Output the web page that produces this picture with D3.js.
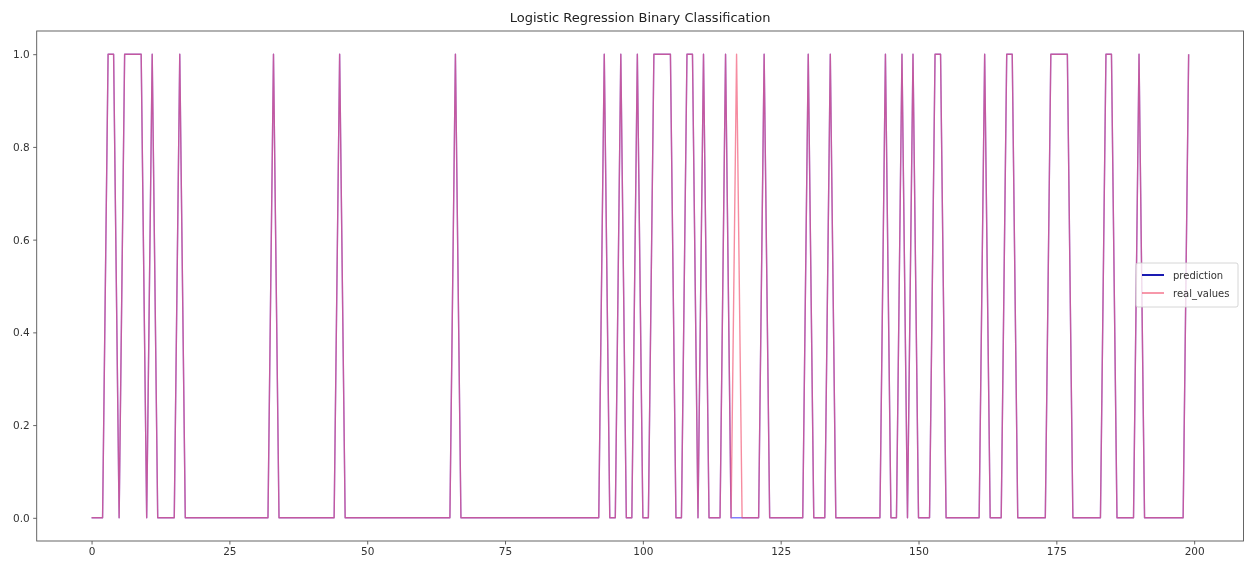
<!DOCTYPE html>
<html>
<head>
<meta charset="utf-8">
<script src="https://cdn.jsdelivr.net/npm/d3@7"></script>
<style>
  html, body { margin: 0; padding: 0; background: #fff; }
  svg { display: block; }
  .soft { filter: blur(0.6px); }
</style>
</head>
<body>
<div id="chart"></div>
<script>
// Sample index on the x axis
const sampleIndex = d3.range(200);

// Class labels predicted by the model, one per sample
const prediction = [
  0,0,0,1,1,0,1,1,1,1,
  0,1,0,0,0,0,1,0,0,0,
  0,0,0,0,0,0,0,0,0,0,
  0,0,0,1,0,0,0,0,0,0,
  0,0,0,0,0,1,0,0,0,0,
  0,0,0,0,0,0,0,0,0,0,
  0,0,0,0,0,0,1,0,0,0,
  0,0,0,0,0,0,0,0,0,0,
  0,0,0,0,0,0,0,0,0,0,
  0,0,0,1,0,0,1,0,0,1,
  0,0,1,1,1,1,0,0,1,1,
  0,1,0,0,0,1,0,0,0,0,
  0,0,1,0,0,0,0,0,0,0,
  1,0,0,0,1,0,0,0,0,0,
  0,0,0,0,1,0,0,1,0,1,
  0,0,0,1,1,0,0,0,0,0,
  0,0,1,0,0,0,1,1,0,0,
  0,0,0,0,1,1,1,1,0,0,
  0,0,0,0,1,1,0,0,0,0,
  1,0,0,0,0,0,0,0,0,1
];

// Ground-truth class labels, one per sample
const realValues = [
  0,0,0,1,1,0,1,1,1,1,
  0,1,0,0,0,0,1,0,0,0,
  0,0,0,0,0,0,0,0,0,0,
  0,0,0,1,0,0,0,0,0,0,
  0,0,0,0,0,1,0,0,0,0,
  0,0,0,0,0,0,0,0,0,0,
  0,0,0,0,0,0,1,0,0,0,
  0,0,0,0,0,0,0,0,0,0,
  0,0,0,0,0,0,0,0,0,0,
  0,0,0,1,0,0,1,0,0,1,
  0,0,1,1,1,1,0,0,1,1,
  0,1,0,0,0,1,0,1,0,0,
  0,0,1,0,0,0,0,0,0,0,
  1,0,0,0,1,0,0,0,0,0,
  0,0,0,0,1,0,0,1,0,1,
  0,0,0,1,1,0,0,0,0,0,
  0,0,1,0,0,0,1,1,0,0,
  0,0,0,0,1,1,1,1,0,0,
  0,0,0,0,1,1,0,0,0,0,
  1,0,0,0,0,0,0,0,0,1
];

const xTicks = [0, 25, 50, 75, 100, 125, 150, 175, 200];
const yTicks = [0.0, 0.2, 0.4, 0.6, 0.8, 1.0];
const seriesNames = ["prediction", "real_values"];

const W = 1245, H = 565;
const plot = { left: 36.7, right: 1243.5, top: 31, bottom: 541 };

const svg = d3.select("#chart").append("svg")
  .attr("width", W).attr("height", H)
  .attr("class", "soft")
  .style("font-family", "'DejaVu Sans', sans-serif");

// Axis limits padded by 5% of the data span on each side
const xPad = (d3.max(sampleIndex) - d3.min(sampleIndex)) * 0.05;
const x = d3.scaleLinear()
  .domain([d3.min(sampleIndex) - xPad, d3.max(sampleIndex) + xPad])
  .range([plot.left, plot.right]);
const y = d3.scaleLinear()
  .domain([-0.05, 1.05])
  .range([plot.bottom, plot.top]);

const line = d3.line()
  .x((d, i) => x(sampleIndex[i]))
  .y(d => y(d));

const seriesStyles = [
  { color: "#0000ff", opacity: 0.5 },
  { color: "#f04060", opacity: 0.6 }
];

const g = svg.append("g");
[prediction, realValues].forEach((values, i) => {
  g.append("path")
    .datum(values)
    .attr("fill", "none")
    .attr("stroke", seriesStyles[i].color)
    .attr("stroke-opacity", seriesStyles[i].opacity)
    .attr("stroke-width", 1.4)
    .attr("stroke-linejoin", "round")
    .attr("d", line);
});

// Axes
const axisColor = "#555";
const xAxis = svg.append("g")
  .attr("transform", `translate(0,${plot.bottom})`)
  .call(d3.axisBottom(x).tickValues(xTicks).tickSize(3.5).tickPadding(3.5).tickFormat(d3.format("d")));
const yAxis = svg.append("g")
  .attr("transform", `translate(${plot.left},0)`)
  .call(d3.axisLeft(y).tickValues(yTicks).tickSize(3.5).tickPadding(3.5).tickFormat(d3.format(".1f")));

[xAxis, yAxis].forEach(a => {
  a.select(".domain").remove();
  a.selectAll(".tick line").attr("stroke", axisColor).attr("stroke-width", 0.9);
  a.selectAll(".tick text").attr("fill", "#333").style("font-size", "10.5px")
    .style("font-family", "'DejaVu Sans', sans-serif");
});

// Frame around the plotting area
svg.append("rect")
  .attr("x", plot.left).attr("y", plot.top)
  .attr("width", plot.right - plot.left).attr("height", plot.bottom - plot.top)
  .attr("fill", "none").attr("stroke", axisColor).attr("stroke-width", 0.9);

// Title
svg.append("text")
  .attr("x", (plot.left + plot.right) / 2).attr("y", 22)
  .attr("text-anchor", "middle")
  .attr("fill", "#222")
  .style("font-size", "13px")
  .text("Logistic Regression Binary Classification");

// Legend
const legend = svg.append("g").attr("transform", "translate(1136,263)");
legend.append("rect")
  .attr("width", 102).attr("height", 44).attr("rx", 2)
  .attr("fill", "#fff").attr("fill-opacity", 0.8)
  .attr("stroke", "#ccc").attr("stroke-width", 0.8);
const legendStroke = ["#0000aa", "#f04060"];
const legendOpacity = [1, 0.6];
seriesNames.forEach((name, i) => {
  const yy = 12 + i * 18;
  legend.append("line")
    .attr("x1", 6).attr("x2", 28).attr("y1", yy).attr("y2", yy)
    .attr("stroke", legendStroke[i])
    .attr("stroke-opacity", legendOpacity[i])
    .attr("stroke-width", 1.8);
  legend.append("text")
    .attr("x", 37).attr("y", yy + 3.5)
    .attr("fill", "#333")
    .style("font-size", "10px")
    .text(name);
});
</script>
</body>
</html>
